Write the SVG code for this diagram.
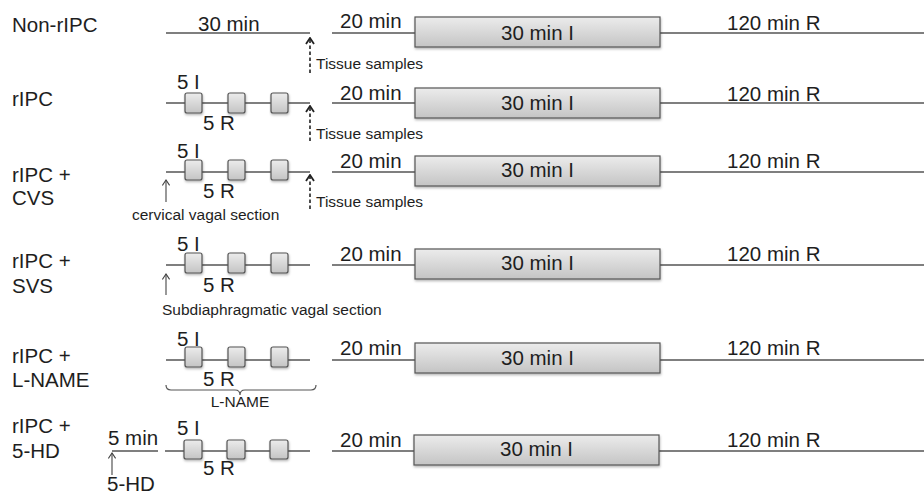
<svg xmlns="http://www.w3.org/2000/svg" width="924" height="495" viewBox="0 0 924 495">
<defs>
<linearGradient id="g" x1="0" y1="0" x2="0" y2="1">
<stop offset="0" stop-color="#ececec"/>
<stop offset="1" stop-color="#c4c4c4"/>
</linearGradient>
<filter id="sh" x="-10%" y="-20%" width="130%" height="160%">
<feDropShadow dx="0.5" dy="1.5" stdDeviation="1" flood-color="#000" flood-opacity="0.3"/>
</filter>
<marker id="ah" viewBox="0 0 10 10" refX="9" refY="5" markerWidth="10" markerHeight="10" orient="auto" markerUnits="userSpaceOnUse">
<path d="M3,1 L9,5 L3,9" fill="none" stroke="#222" stroke-width="1.8"/>
</marker>
<marker id="ah2" viewBox="0 0 10 10" refX="9" refY="5" markerWidth="9" markerHeight="9" orient="auto" markerUnits="userSpaceOnUse">
<path d="M3,1 L9,5 L3,9" fill="none" stroke="#444" stroke-width="1.2"/>
</marker>
</defs>
<style>
text{font-family:"Liberation Sans",Arial,sans-serif;fill:#1e1e1e}
.t{font-size:20.5px}
.s{font-size:15.5px}
.ln{stroke:#555;stroke-width:1.5;fill:none}
.big{fill:url(#g);stroke:#555;stroke-width:1.2;filter:url(#sh)}
.sm{fill:url(#g);stroke:#555;stroke-width:1.2;filter:url(#sh)}
.da{stroke:#222;stroke-width:1.6;stroke-dasharray:3.5,2.5;fill:none}
.ar{stroke:#444;stroke-width:1.1;fill:none}
</style>

<g id="connectors">
<line class="ln" x1="166" y1="33" x2="310" y2="33"/>
<line class="ln" x1="332" y1="33" x2="415" y2="33"/>
<line class="ln" x1="660" y1="33" x2="924" y2="33"/>
<line class="ln" x1="166" y1="103" x2="310" y2="103"/>
<line class="ln" x1="332" y1="103" x2="415" y2="103"/>
<line class="ln" x1="660" y1="103" x2="924" y2="103"/>
<line class="ln" x1="166" y1="172" x2="310" y2="172"/>
<line class="ln" x1="332" y1="172" x2="415" y2="172"/>
<line class="ln" x1="660" y1="172" x2="924" y2="172"/>
<line class="ln" x1="166" y1="265" x2="310" y2="265"/>
<line class="ln" x1="332" y1="265" x2="415" y2="265"/>
<line class="ln" x1="660" y1="265" x2="924" y2="265"/>
<line class="ln" x1="166" y1="360" x2="310" y2="360"/>
<line class="ln" x1="332" y1="360" x2="415" y2="360"/>
<line class="ln" x1="660" y1="360" x2="924" y2="360"/>
<line class="ln" x1="112" y1="451" x2="158" y2="451"/>
<line class="ln" x1="165" y1="451" x2="310" y2="451"/>
<line class="ln" x1="332" y1="451" x2="414" y2="451"/>
<line class="ln" x1="659" y1="451" x2="924" y2="451"/>
<line class="da" x1="310" y1="73" x2="310" y2="38" marker-end="url(#ah)"/>
<line class="da" x1="310" y1="141" x2="310" y2="106" marker-end="url(#ah)"/>
<line class="da" x1="310" y1="209" x2="310" y2="175" marker-end="url(#ah)"/>
<line class="ar" x1="166" y1="202" x2="166" y2="180" marker-end="url(#ah2)"/>
<line class="ar" x1="166" y1="295" x2="166" y2="274" marker-end="url(#ah2)"/>
<line class="ar" x1="112" y1="475" x2="112" y2="453" marker-end="url(#ah2)"/>
<path d="M166,385 Q166,390 171,390 L235,390 Q240,390 240,395 Q240,390 245,390 L311,390 Q316,390 316,385" fill="none" stroke="#555" stroke-width="1.2"/>
</g>

<g id="row1">
<text class="t" x="12" y="32">Non-rIPC</text>
<text class="t" x="198" y="31">30 min</text>
<text class="s" x="316" y="69">Tissue samples</text>
<text class="t" x="340" y="28">20 min</text>
<rect class="big" x="415" y="17" width="245" height="30"/>
<text class="t" x="537.5" y="40" text-anchor="middle">30 min I</text>
<text class="t" x="727" y="30">120 min R</text>
</g>

<g id="row2">
<text class="t" x="12" y="106">rIPC</text>
<text class="t" x="177" y="89">5 I</text>
<rect class="sm" x="185" y="93" width="17" height="20" rx="2"/>
<rect class="sm" x="228" y="93" width="17" height="20" rx="2"/>
<rect class="sm" x="271" y="93" width="17" height="20" rx="2"/>
<text class="t" x="203" y="129.5">5 R</text>
<text class="s" x="316" y="139">Tissue samples</text>
<text class="t" x="340" y="100">20 min</text>
<rect class="big" x="415" y="88" width="245" height="30"/>
<text class="t" x="537.5" y="110" text-anchor="middle">30 min I</text>
<text class="t" x="727" y="100.5">120 min R</text>
</g>

<g id="row3">
<text class="t" x="12" y="182">rIPC +</text>
<text class="t" x="12" y="205">CVS</text>
<text class="t" x="177" y="158">5 I</text>
<rect class="sm" x="185" y="160" width="17" height="20" rx="2"/>
<rect class="sm" x="228" y="160" width="17" height="20" rx="2"/>
<rect class="sm" x="271" y="160" width="17" height="20" rx="2"/>
<text class="t" x="203" y="198">5 R</text>
<text class="s" x="132" y="220">cervical vagal section</text>
<text class="s" x="316" y="207">Tissue samples</text>
<text class="t" x="340" y="168">20 min</text>
<rect class="big" x="415" y="156" width="245" height="30"/>
<text class="t" x="537.5" y="177" text-anchor="middle">30 min I</text>
<text class="t" x="727" y="168">120 min R</text>
</g>

<g id="row4">
<text class="t" x="12" y="268">rIPC +</text>
<text class="t" x="12" y="293">SVS</text>
<text class="t" x="177" y="251">5 I</text>
<rect class="sm" x="185" y="253" width="17" height="20" rx="2"/>
<rect class="sm" x="228" y="253" width="17" height="20" rx="2"/>
<rect class="sm" x="271" y="253" width="17" height="20" rx="2"/>
<text class="t" x="203" y="291.5">5 R</text>
<text class="s" x="162" y="315">Subdiaphragmatic vagal section</text>
<text class="t" x="340" y="261">20 min</text>
<rect class="big" x="415" y="249" width="245" height="30"/>
<text class="t" x="537.5" y="270" text-anchor="middle">30 min I</text>
<text class="t" x="727" y="261">120 min R</text>
</g>

<g id="row5">
<text class="t" x="12" y="363">rIPC +</text>
<text class="t" x="12" y="387">L-NAME</text>
<text class="t" x="177" y="346">5 I</text>
<rect class="sm" x="185" y="347" width="17" height="20" rx="2"/>
<rect class="sm" x="228" y="347" width="17" height="20" rx="2"/>
<rect class="sm" x="271" y="347" width="17" height="20" rx="2"/>
<text class="t" x="203" y="385.5">5 R</text>
<text class="s" x="240" y="407" text-anchor="middle">L-NAME</text>
<text class="t" x="340" y="355">20 min</text>
<rect class="big" x="415" y="343" width="245" height="30"/>
<text class="t" x="537.5" y="365" text-anchor="middle">30 min I</text>
<text class="t" x="727" y="355">120 min R</text>
</g>

<g id="row6">
<text class="t" x="12" y="433">rIPC +</text>
<text class="t" x="12" y="458">5-HD</text>
<text class="t" x="108" y="445">5 min</text>
<text class="t" x="107" y="491">5-HD</text>
<text class="t" x="177" y="435">5 I</text>
<rect class="sm" x="184" y="440" width="18" height="19" rx="2"/>
<rect class="sm" x="227" y="440" width="18" height="19" rx="2"/>
<rect class="sm" x="270" y="440" width="18" height="19" rx="2"/>
<text class="t" x="203" y="475">5 R</text>
<text class="t" x="340" y="446.5">20 min</text>
<rect class="big" x="414" y="435" width="245" height="30"/>
<text class="t" x="536.5" y="456" text-anchor="middle">30 min I</text>
<text class="t" x="727" y="446.5">120 min R</text>
</g>
</svg>
